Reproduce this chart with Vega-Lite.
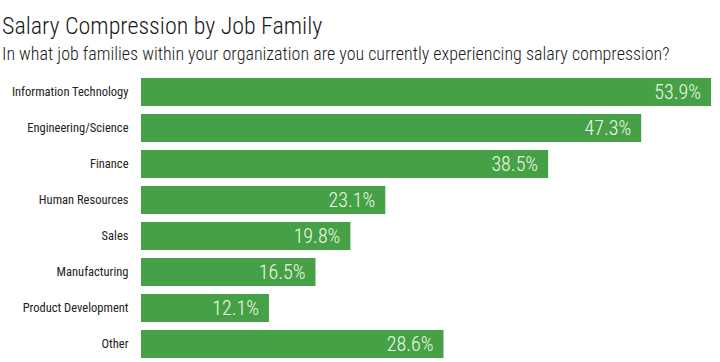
{
  "$schema": "https://vega.github.io/schema/vega-lite/v6.json",
  "autosize": {"type": "none"},
  "padding": {"left": 141, "top": 74, "right": 9, "bottom": 0},
  "width": 570,
  "height": 288,
  "background": "white",
  "title": {
    "text": "Salary Compression by Job Family",
    "subtitle": "In what job families within your organization are you currently experiencing salary compression?",
    "anchor": "start",
    "frame": "group",
    "dx": -139,
    "offset": 10,
    "font": "Roboto Condensed, DejaVu Sans Condensed",
    "fontSize": 24,
    "fontWeight": 300,
    "color": "#1a1a1a",
    "subtitleFont": "Roboto Condensed, DejaVu Sans Condensed",
    "subtitleFontSize": 18,
    "subtitleFontWeight": 300,
    "subtitleColor": "#1a1a1a",
    "subtitlePadding": 7
  },
  "data": {
    "values": [
      {"family": "Information Technology", "share": 0.539},
      {"family": "Engineering/Science", "share": 0.473},
      {"family": "Finance", "share": 0.385},
      {"family": "Human Resources", "share": 0.231},
      {"family": "Sales", "share": 0.198},
      {"family": "Manufacturing", "share": 0.165},
      {"family": "Product Development", "share": 0.121},
      {"family": "Other", "share": 0.286}
    ]
  },
  "encoding": {
    "y": {
      "field": "family",
      "type": "nominal",
      "sort": null,
      "scale": {"paddingInner": 0.222, "paddingOuter": 0.111},
      "axis": {
        "title": null,
        "domain": false,
        "ticks": false,
        "labelPadding": 13,
        "labelFont": "Roboto Condensed, DejaVu Sans Condensed",
        "labelFontSize": 12.5,
        "labelColor": "#222222"
      }
    },
    "x": {
      "field": "share",
      "type": "quantitative",
      "scale": {"domain": [0, 0.539], "nice": false},
      "axis": null
    }
  },
  "layer": [
    {"mark": {"type": "bar", "color": "#46a046"}},
    {
      "mark": {
        "type": "text",
        "align": "right",
        "baseline": "middle",
        "dx": -10,
        "dy": 1,
        "font": "Roboto Condensed, DejaVu Sans Condensed",
        "fontSize": 20,
        "fontWeight": 300,
        "color": "#eef8e6"
      },
      "encoding": {
        "text": {"field": "share", "type": "quantitative", "format": ".1%"}
      }
    }
  ],
  "config": {"view": {"stroke": null}}
}
